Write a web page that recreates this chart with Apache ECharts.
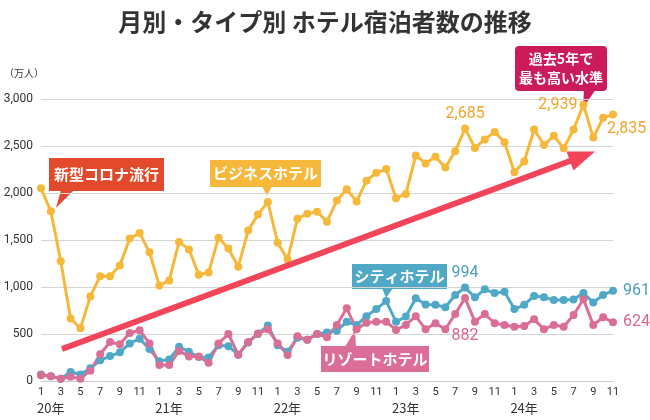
<!DOCTYPE html>
<html><head><meta charset="utf-8">
<script src="https://cdn.jsdelivr.net/npm/echarts@6/dist/echarts.min.js"></script>
<style>html,body{margin:0;padding:0;background:#fff}#c{width:650px;height:420px}</style>
</head><body><div id="c"></div>
<script>
const categories = [
 '2020-01','2020-02','2020-03','2020-04','2020-05','2020-06','2020-07','2020-08','2020-09','2020-10','2020-11','2020-12',
 '2021-01','2021-02','2021-03','2021-04','2021-05','2021-06','2021-07','2021-08','2021-09','2021-10','2021-11','2021-12',
 '2022-01','2022-02','2022-03','2022-04','2022-05','2022-06','2022-07','2022-08','2022-09','2022-10','2022-11','2022-12',
 '2023-01','2023-02','2023-03','2023-04','2023-05','2023-06','2023-07','2023-08','2023-09','2023-10','2023-11','2023-12',
 '2024-01','2024-02','2024-03','2024-04','2024-05','2024-06','2024-07','2024-08','2024-09','2024-10','2024-11'
];
const business = [
 2050,1805,1275,665,560,900,1115,1115,1230,1515,1575,1370,
 1015,1070,1480,1400,1130,1155,1525,1410,1215,1600,1770,1905,
 1470,1295,1725,1780,1800,1695,1920,2040,1910,2130,2215,2255,
 1945,1990,2400,2315,2385,2270,2445,2685,2480,2570,2650,2540,
 2220,2335,2675,2510,2610,2475,2675,2939,2590,2800,2835
];
const city = [
 70,50,25,95,70,135,220,265,305,400,450,340,
 210,230,365,310,255,250,380,370,280,410,500,590,
 380,310,460,440,500,515,535,630,595,690,765,850,
 630,685,880,815,810,785,915,994,890,975,935,950,
 765,810,905,890,862,862,868,935,835,915,961
];
const resort = [
 60,50,25,45,25,110,285,415,390,510,540,400,
 170,170,320,260,260,195,400,500,280,415,505,550,
 400,277,475,440,500,465,596,773,550,620,631,631,
 543,596,690,550,614,550,713,882,631,713,614,596,
 578,585,656,550,596,578,702,869,596,678,624
];
const yTicks = [0,500,1000,1500,2000,2500,3000];
const seriesNames = ['ビジネスホテル','シティホテル','リゾートホテル'];

const FONT = "'Noto Sans CJK JP', sans-serif";
const NUMFONT = "Roboto, 'Noto Sans CJK JP', sans-serif";
const fmt = v => Number(v).toLocaleString('en-US');

function withLabels(values, labelCfg, color) {
  return values.map((v, i) => {
    const cfg = labelCfg[i];
    if (!cfg) return v;
    return { value: v, label: Object.assign({ show: true, color: color, fontSize: 16, fontFamily: NUMFONT, formatter: p => fmt(p.value) }, cfg) };
  });
}

const chart = echarts.init(document.getElementById('c'), null, { renderer: 'canvas' });

function lineSeries(name, data, color) {
  return {
    name: name, type: 'line', data: data,
    symbol: 'circle', symbolSize: 8, showSymbol: true, showAllSymbol: true,
    lineStyle: { width: 3, color: color },
    itemStyle: { color: color },
    label: { show: false },
    labelLayout: { hideOverlap: false },
    emphasis: { disabled: true },
    animation: false
  };
}

function callout(x, y, w, h, color, text, tail, fontSize, r) {
  return {
    type: 'group', z: 100,
    children: [
      { type: 'polygon', shape: { points: tail }, style: { fill: color } },
      { type: 'rect', shape: { x: x, y: y, width: w, height: h, r: r || 0 }, style: { fill: color } },
      { type: 'text', style: { x: x + w / 2, y: y + h / 2, text: text, fill: '#fff', font: 'bold ' + fontSize + 'px ' + FONT, textAlign: 'center', textVerticalAlign: 'middle', lineHeight: fontSize + 5 } }
    ]
  };
}

const option = {
  backgroundColor: '#fff',
  animation: false,
  title: {
    text: '月別・タイプ別 ホテル宿泊者数の推移',
    left: 'center', top: 5,
    textStyle: { fontSize: 24, fontWeight: 'bold', color: '#333', fontFamily: FONT }
  },
  grid: { left: 41, right: 37, top: 99, bottom: 39 },
  xAxis: [{
    type: 'category', data: categories, boundaryGap: false,
    axisLine: { lineStyle: { color: '#ccc' } },
    axisTick: { show: false },
    axisLabel: {
      interval: 1, margin: 6, fontSize: 11, color: '#333', fontFamily: NUMFONT,
      formatter: v => String(parseInt(v.split('-')[1], 10))
    }
  }, {
    type: 'category', data: categories, boundaryGap: false, position: 'bottom',
    axisLine: { show: false }, axisTick: { show: false }, splitLine: { show: false },
    axisLabel: {
      interval: 0, margin: 21, fontSize: 13, color: '#333', fontFamily: FONT, align: 'left', padding: [0, 0, 0, -4],
      formatter: v => { const p = v.split('-'); return p[1] === '01' ? p[0].slice(2) + '年' : ''; }
    }
  }],
  yAxis: {
    type: 'value', min: yTicks[0], max: yTicks[yTicks.length - 1], interval: yTicks[1] - yTicks[0],
    axisLine: { show: false }, axisTick: { show: false },
    splitLine: { lineStyle: { color: '#d5d5d5', width: 1 } },
    axisLabel: { margin: 8, fontSize: 12, color: '#333', fontFamily: NUMFONT, formatter: v => fmt(v) }
  },
  series: [
    lineSeries(seriesNames[0], withLabels(business, {
      43: { position: 'top', distance: 3 },
      55: { position: 'left', distance: 2 },
      58: { position: [-2, 10] }
    }, '#F2A42A'), '#F6B83A'),
    lineSeries(seriesNames[1], withLabels(city, {
      43: { position: 'top', distance: 3 },
      58: { position: 'right', distance: 6 }
    }, '#4A9FC0'), '#4FA9C6'),
    lineSeries(seriesNames[2], withLabels(resort, {
      43: { position: 'bottom', distance: 26 },
      58: { position: 'right', distance: 6 }
    }, '#D8678F'), '#DB6E96')
  ],
  graphic: [
    { type: 'line', z: 90, shape: { x1: 62, y1: 349, x2: 574, y2: 159.5 }, style: { stroke: '#F2455A', lineWidth: 6 } },
    { type: 'polygon', z: 90, shape: { points: [[595, 151.5], [566.5, 151.5], [573.5, 170.5]] }, style: { fill: '#F2455A' } },
    { type: 'text', left: 4, top: 68, style: { text: '（万人）', font: '10px ' + FONT, fill: '#333' } },
    callout(49, 158, 115, 33, '#E24A2B', '新型コロナ流行', [[61, 190], [74, 190], [56, 208]], 15),
    callout(210, 160, 111, 27, '#F6B83A', 'ビジネスホテル', [[262, 186], [272, 186], [267, 196]], 15),
    callout(352, 264, 95, 25, '#4FA9C6', 'シティホテル', [[382, 288], [393, 288], [386, 298]], 15),
    callout(321, 346, 108, 26, '#DB6E96', 'リゾートホテル', [[345, 347], [356, 347], [355, 330]], 15),
    callout(515, 46, 92, 45, '#CB1B5C', '過去5年で\n最も高い水準', [[584, 89], [596, 89], [583, 108]], 14, 4)
  ]
};
chart.setOption(option);
</script>
</body></html>
